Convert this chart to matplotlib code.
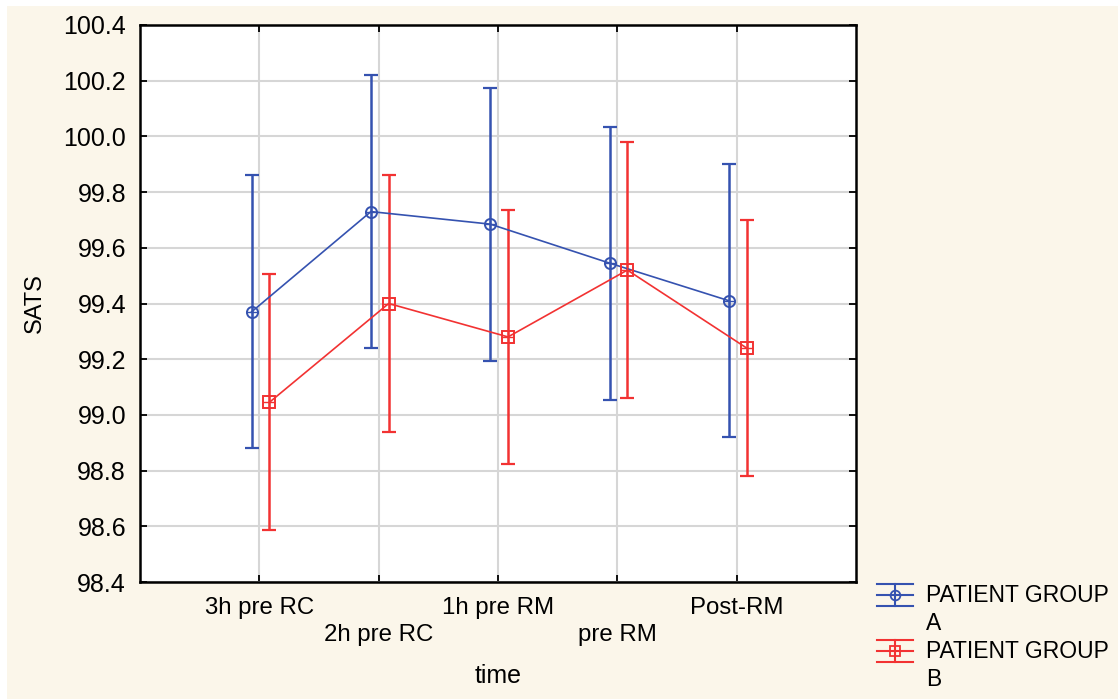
import matplotlib.pyplot as plt
from matplotlib.lines import Line2D
from matplotlib.patches import Rectangle

# Mean SATS and half-width of the error bars per time point
time_labels = ['3h pre RC', '2h pre RC', '1h pre RM', 'pre RM', 'Post-RM']
group_a_mean = [99.37, 99.73, 99.685, 99.545, 99.41]
group_a_err = [0.49, 0.49, 0.49, 0.49, 0.49]
group_b_mean = [99.045, 99.40, 99.28, 99.52, 99.24]
group_b_err = [0.46, 0.46, 0.455, 0.46, 0.46]

blue = '#3552b0'
red = '#f23232'
cream = '#fbf6ea'

plt.rcParams['font.family'] = ['Liberation Sans', 'DejaVu Sans']

fig = plt.figure(figsize=(11.18, 6.99), dpi=100, facecolor='white')
fig.patches.append(Rectangle((7 / 1118, 0), 1, 1 - 6 / 699, transform=fig.transFigure,
                             facecolor=cream, edgecolor='none', zorder=-10))
ax = fig.add_axes([140 / 1118, 1 - 582 / 699, 716 / 1118, 557 / 699])
ax.set_facecolor('white')

x = list(range(len(time_labels)))
xa = [i - 0.065 for i in x]
xb = [i + 0.084 for i in x]

for xs, m, e, c, mk in [(xa, group_a_mean, group_a_err, blue, 'o'),
                        (xb, group_b_mean, group_b_err, red, 's')]:
    ax.errorbar(xs, m, yerr=e, fmt='none', ecolor=c, elinewidth=1.8,
                capsize=5, capthick=1.6, zorder=3)
    ax.plot(xs, m, color=c, lw=1.2, zorder=4)
    ax.plot(xs, m, mk, ms=8, mfc='none', mec=c, mew=1.4, zorder=5)
    ax.plot(xs, m, '+', ms=8, mec=c, mew=1.0, zorder=5)

ax.set_xlim(-1, 5)
ax.set_ylim(98.4, 100.4)
ax.set_yticks([98.4 + 0.2 * i for i in range(11)])
ax.set_yticklabels(['%.1f' % (98.4 + 0.2 * i) for i in range(11)])
ax.set_xticks(x)
ax.set_xticklabels([('\n' if i % 2 else '') + t for i, t in enumerate(time_labels)],
                   linespacing=1.25)

ax.tick_params(direction='in', length=5, width=1.3, top=True, right=True, colors='black')
ax.tick_params(axis='x', pad=11, labelsize=17.3)
ax.tick_params(axis='y', pad=10, labelsize=18)
for s in ax.spines.values():
    s.set_linewidth(1.8)

ax.grid(True, color='#d6d6d6', lw=1.5)
ax.set_axisbelow(True)

ax.set_xlabel('time', fontsize=18)
ax.xaxis.set_label_coords(0.5, -0.148)
ax.set_ylabel('SATS', fontsize=17)
ax.yaxis.set_label_coords(-0.131, 0.5)

# Legend drawn by hand outside the plot
for row, (c, mk, name) in enumerate([(blue, 'o', 'A'), (red, 's', 'B')]):
    yc = 1 - (595 + row * 56) / 699
    dy = 11 / 699
    x0, x1 = 877 / 1118, 913 / 1118
    xm = (x0 + x1) / 2
    for yy in (yc - dy, yc, yc + dy):
        fig.add_artist(Line2D([x0, x1], [yy, yy], color=c, lw=1.5))
    fig.add_artist(Line2D([xm, xm], [yc - dy, yc + dy], color=c, lw=1.5))
    fig.add_artist(Line2D([xm], [yc], marker=mk, ms=7, mfc='none', mec=c, mew=1.3))
    fig.text(926 / 1118, yc, 'PATIENT GROUP', fontsize=16.5, va='center', ha='left')
    fig.text(926 / 1118, yc - 28 / 699, name, fontsize=16.5, va='center', ha='left')

fig.savefig('out.png', dpi=100, facecolor=fig.get_facecolor())
